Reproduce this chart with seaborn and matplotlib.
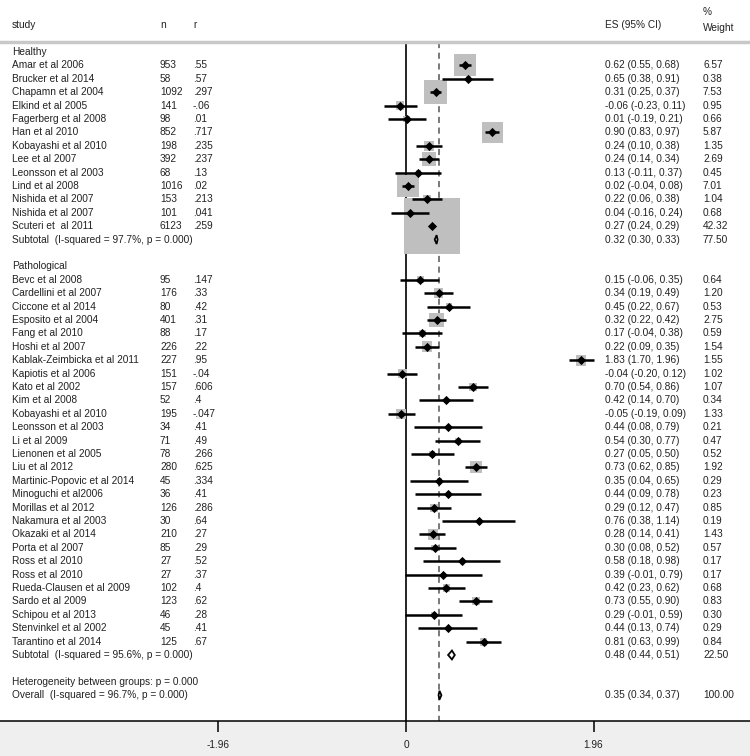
import numpy as np
import pandas as pd
import seaborn as sns
import matplotlib.pyplot as plt
from matplotlib.transforms import blended_transform_factory

# healthy group
healthy_study = ['Amar et al 2006', 'Brucker et al 2014', 'Chapamn et al 2004', 'Elkind et al 2005',
                 'Fagerberg et al 2008', 'Han et al 2010', 'Kobayashi et al 2010', 'Lee et al 2007',
                 'Leonsson et al 2003', 'Lind et al 2008', 'Nishida et al 2007', 'Nishida et al 2007',
                 'Scuteri et  al 2011']
healthy_n = [953, 58, 1092, 141, 98, 852, 198, 392, 68, 1016, 153, 101, 6123]
healthy_r = ['.55', '.57', '.297', '-.06', '.01', '.717', '.235', '.237', '.13', '.02', '.213', '.041', '.259']
healthy_es = [0.62, 0.65, 0.31, -0.06, 0.01, 0.90, 0.24, 0.24, 0.13, 0.02, 0.22, 0.04, 0.27]
healthy_lo = [0.55, 0.38, 0.25, -0.23, -0.19, 0.83, 0.10, 0.14, -0.11, -0.04, 0.06, -0.16, 0.24]
healthy_hi = [0.68, 0.91, 0.37, 0.11, 0.21, 0.97, 0.38, 0.34, 0.37, 0.08, 0.38, 0.24, 0.29]
healthy_w = [6.57, 0.38, 7.53, 0.95, 0.66, 5.87, 1.35, 2.69, 0.45, 7.01, 1.04, 0.68, 42.32]
healthy_sub = (0.32, 0.30, 0.33, 77.50)

# pathological group
path_study = ['Bevc et al 2008', 'Cardellini et al 2007', 'Ciccone et al 2014', 'Esposito et al 2004',
              'Fang et al 2010', 'Hoshi et al 2007', 'Kablak-Zeimbicka et al 2011', 'Kapiotis et al 2006',
              'Kato et al 2002', 'Kim et al 2008', 'Kobayashi et al 2010', 'Leonsson et al 2003',
              'Li et al 2009', 'Lienonen et al 2005', 'Liu et al 2012', 'Martinic-Popovic et al 2014',
              'Minoguchi et al2006', 'Morillas et al 2012', 'Nakamura et al 2003', 'Okazaki et al 2014',
              'Porta et al 2007', 'Ross et al 2010', 'Ross et al 2010', 'Rueda-Clausen et al 2009',
              'Sardo et al 2009', 'Schipou et al 2013', 'Stenvinkel et al 2002', 'Tarantino et al 2014']
path_n = [95, 176, 80, 401, 88, 226, 227, 151, 157, 52, 195, 34, 71, 78, 280, 45, 36, 126, 30, 210,
          85, 27, 27, 102, 123, 46, 45, 125]
path_r = ['.147', '.33', '.42', '.31', '.17', '.22', '.95', '-.04', '.606', '.4', '-.047', '.41', '.49',
          '.266', '.625', '.334', '.41', '.286', '.64', '.27', '.29', '.52', '.37', '.4', '.62', '.28',
          '.41', '.67']
path_es = [0.15, 0.34, 0.45, 0.32, 0.17, 0.22, 1.83, -0.04, 0.70, 0.42, -0.05, 0.44, 0.54, 0.27, 0.73,
           0.35, 0.44, 0.29, 0.76, 0.28, 0.30, 0.58, 0.39, 0.42, 0.73, 0.29, 0.44, 0.81]
path_lo = [-0.06, 0.19, 0.22, 0.22, -0.04, 0.09, 1.70, -0.20, 0.54, 0.14, -0.19, 0.08, 0.30, 0.05, 0.62,
           0.04, 0.09, 0.12, 0.38, 0.14, 0.08, 0.18, -0.01, 0.23, 0.55, -0.01, 0.13, 0.63]
path_hi = [0.35, 0.49, 0.67, 0.42, 0.38, 0.35, 1.96, 0.12, 0.86, 0.70, 0.09, 0.79, 0.77, 0.50, 0.85,
           0.65, 0.78, 0.47, 1.14, 0.41, 0.52, 0.98, 0.79, 0.62, 0.90, 0.59, 0.74, 0.99]
path_w = [0.64, 1.20, 0.53, 2.75, 0.59, 1.54, 1.55, 1.02, 1.07, 0.34, 1.33, 0.21, 0.47, 0.52, 1.92,
          0.29, 0.23, 0.85, 0.19, 1.43, 0.57, 0.17, 0.17, 0.68, 0.83, 0.30, 0.29, 0.84]
path_sub = (0.48, 0.44, 0.51, 22.50)

overall = (0.35, 0.34, 0.37, 100.00)
xticks = [-1.96, 0, 1.96]
xtick_labels = ['-1.96', '0', '1.96']

# row layout
n_h = len(healthy_study)
n_p = len(path_study)
row_healthy = 0
rows_h = np.arange(1, n_h + 1)
row_hsub = n_h + 1
row_path = n_h + 3
rows_p = np.arange(row_path + 1, row_path + 1 + n_p)
row_psub = rows_p[-1] + 1
row_het = row_psub + 2
row_all = row_het + 1

df = pd.DataFrame({
    'study': healthy_study + path_study,
    'n': healthy_n + path_n,
    'r': healthy_r + path_r,
    'es': healthy_es + path_es,
    'lo': healthy_lo + path_lo,
    'hi': healthy_hi + path_hi,
    'w': healthy_w + path_w,
    'row': np.concatenate([rows_h, rows_p]),
})

sns.set_theme(style='white')
plt.rcParams['font.family'] = ['Liberation Sans', 'DejaVu Sans']
fs = 7.3

fig = plt.figure(figsize=(7.5, 7.56), dpi=100)
fig.patch.set_facecolor('#efefef')
ax = fig.add_axes([0, 35 / 756, 1, 721 / 756])
ax.set_facecolor('white')

px_unit = 95.7
row_px = 13.4
ax.set_xlim(-406 / px_unit, (750 - 406) / px_unit)
ybot = (721 - 52) / row_px
ax.set_ylim(ybot, -52 / row_px)
line_row = (42 - 52) / row_px

# reference lines
ax.vlines(0, line_row, ybot, color='black', lw=1.2, zorder=0.5)
ax.vlines(overall[0], line_row, ybot, color='#555555', lw=1.1, linestyles=(0, (4, 3)), zorder=0.5)
ax.axhline(line_row, color='#c8c8c8', lw=2.5)

# weight boxes
side_px = 56 * np.sqrt(df['w'] / 42.32)
ax.scatter(df['es'], df['row'], s=(side_px * 0.72) ** 2, marker='s', color='#bfbfbf',
           edgecolors='none', zorder=1)
# confidence intervals
ax.hlines(df['row'], df['lo'], df['hi'], color='black', lw=1.8, zorder=2)
sns.scatterplot(data=df, x='es', y='row', marker='D', color='black', s=22, edgecolor='black',
                linewidth=0, zorder=3, ax=ax, legend=False)

# pooled diamonds
for (es, lo, hi, w), r in [(healthy_sub, row_hsub), (path_sub, row_psub), (overall, row_all)]:
    ax.fill([lo, es, hi, es], [r, r - 0.33, r, r + 0.33], facecolor='white', edgecolor='black',
            lw=1.3, zorder=3)

# text columns
tr = blended_transform_factory(ax.transAxes, ax.transData)
xs, xn, xr, xes, xw = 12 / 750, 160 / 750, 193 / 750, 605 / 750, 703 / 750
kw = dict(transform=tr, fontsize=fs, va='center', ha='left', color='#222222')
ax.text(xs, -2.0, 'study', **kw)
ax.text(xn, -2.0, 'n', **kw)
ax.text(xr, -2.0, 'r', **kw)
ax.text(xes, -2.0, 'ES (95% CI)', **kw)
ax.text(xw, -3.0, '%', **kw)
ax.text(xw, -1.8, 'Weight', **kw)

ax.text(xs, row_healthy, 'Healthy', **kw)
ax.text(xs, row_path, 'Pathological', **kw)
for _, d in df.iterrows():
    ax.text(xs, d['row'], d['study'], **kw)
    ax.text(xn, d['row'], str(d['n']), **kw)
    ax.text(xr, d['row'], d['r'], **kw)
    ax.text(xes, d['row'], f"{d['es']:.2f} ({d['lo']:.2f}, {d['hi']:.2f})", **kw)
    ax.text(xw, d['row'], f"{d['w']:.2f}", **kw)

pooled = [('Subtotal  (I-squared = 97.7%, p = 0.000)', healthy_sub, row_hsub),
          ('Subtotal  (I-squared = 95.6%, p = 0.000)', path_sub, row_psub),
          ('Overall  (I-squared = 96.7%, p = 0.000)', overall, row_all)]
for label, (es, lo, hi, w), r in pooled:
    ax.text(xs, r, label, **kw)
    ax.text(xes, r, f"{es:.2f} ({lo:.2f}, {hi:.2f})", **kw)
    ax.text(xw, r, f"{w:.2f}", **kw)
ax.text(xs, row_het, 'Heterogeneity between groups: p = 0.000', **kw)

# axis
for side in ['top', 'left', 'right']:
    ax.spines[side].set_visible(False)
ax.spines['bottom'].set_color('black')
ax.spines['bottom'].set_linewidth(1.1)
ax.set_yticks([])
ax.set_xticks(xticks)
ax.set_xticklabels(xtick_labels)
ax.tick_params(axis='x', direction='out', length=8, width=1.1, color='black', pad=6,
               labelsize=fs, labelcolor='#222222', bottom=True)
ax.set_xlabel('')
ax.set_ylabel('')

fig.savefig('out.png', dpi=100, facecolor=fig.get_facecolor())
